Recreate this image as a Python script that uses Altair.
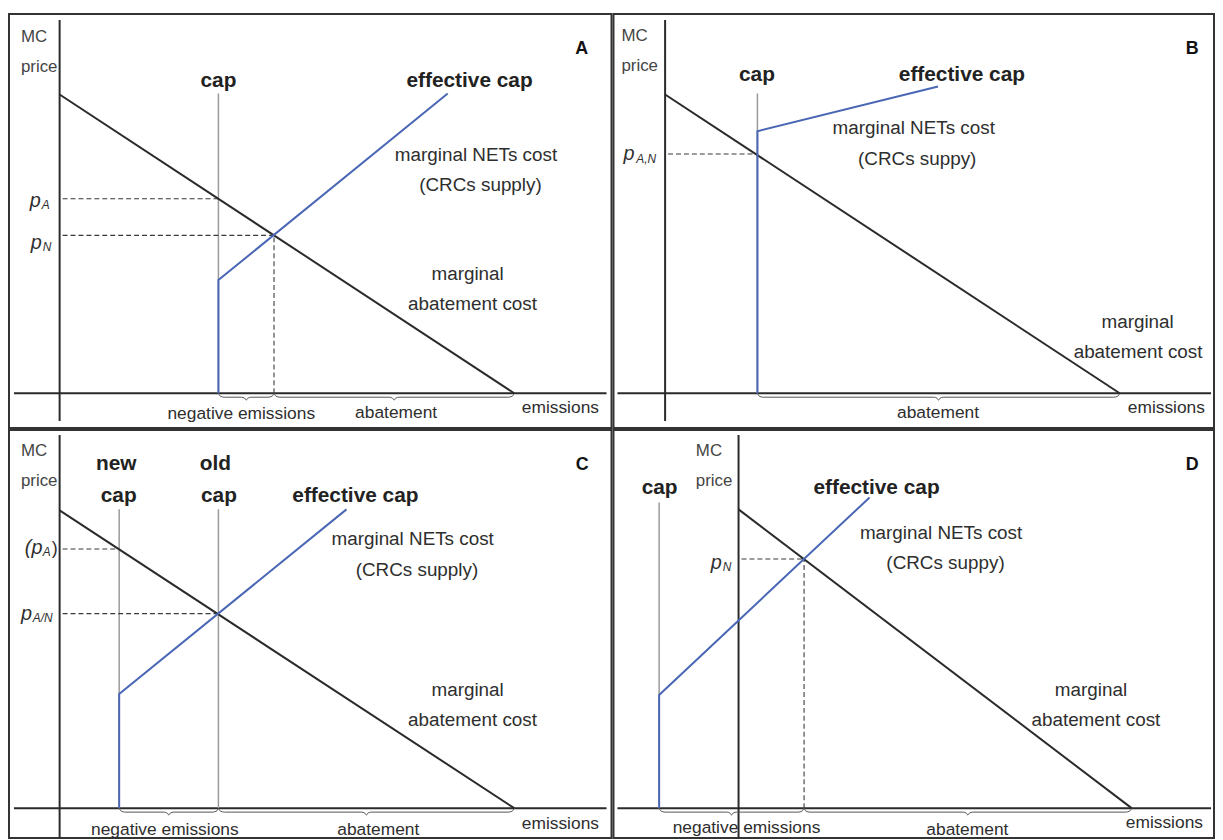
import altair as alt
import pandas as pd

FONT = "Liberation Sans"
INK = "#2a2a2a"
TXT = "#2e2e2e"
BLUE = "#4a67b5"
GRAY = "#9a9a9a"
DASH_START = 3

# ---------------- Panel A ----------------
A_XDOM = [-51, 556]
A_YDOM = [-35, 382]
A_EMIS_AXIS = [-46, 551]
A_PRICE_AXIS = [-28, 376]
A_MAC_X = [0, 458]
A_MAC_Y = [301, 0]
A_NET_X = [160, 160, 391]
A_NET_Y = [0, 114, 302]
A_CAP_X = [160]
A_CAP_TOP = [302]
A_PRICE_END_X = [160, 216]
A_PRICE_Y = [196, 159]
A_DROP_X = [216]
A_DROP_Y = [159]
A_BRACES = [(160, 216), (216, 458)]
A_BOLD = [("cap", 160, 309), ("effective cap", 413, 309)]
A_LETTER = [("A", 526, 342)]
A_LABELS = [("marginal NETs cost", 419.5, 234), ("(CRCs supply)", 424, 204),
            ("marginal", 411, 114), ("abatement cost", 416, 84)]
A_AXIS_LABELS = [("negative emissions", 183, -26), ("abatement", 339, -25), ("emissions", 504.5, -20)]
A_MC = [("MC", -39, 354), ("price", -39, 324)]
A_P = [("p", -30, 188), ("p", -29, 145)]
A_SUB = [("A", -18, 186), ("N", -17, 143)]

# ---------------- Panel B ----------------
B_XDOM = [-52, 553]
B_YDOM = [-35, 382]
B_EMIS_AXIS = [-48, 550]
B_PRICE_AXIS = [-28, 376]
B_MAC_X = [0, 458]
B_MAC_Y = [301, 0]
B_NET_X = [93, 93, 275]
B_NET_Y = [0, 264, 309]
B_CAP_X = [93]
B_CAP_TOP = [302]
B_PRICE_END_X = [93]
B_PRICE_Y = [241]
B_DROP_X = []
B_DROP_Y = []
B_BRACES = [(93, 458)]
B_BOLD = [("cap", 92.5, 315), ("effective cap", 299, 315)]
B_LETTER = [("B", 531, 342)]
B_LABELS = [("marginal NETs cost", 250.5, 261), ("(CRCs suppy)", 254, 230),
            ("marginal", 476, 66), ("abatement cost", 476.5, 36)]
B_AXIS_LABELS = [("abatement", 275, -25), ("emissions", 505, -20)]
B_MC = [("MC", -44, 355), ("price", -44, 325)]
B_P = [("p", -42, 235)]
B_SUB = [("A,N", -29, 232)]

# ---------------- Panel C ----------------
C_XDOM = [-51, 556]
C_YDOM = [-30, 381]
C_EMIS_AXIS = [-46, 551]
C_PRICE_AXIS = [-30, 376]
C_MAC_X = [0, 458]
C_MAC_Y = [300, 0]
C_NET_X = [60, 60, 289]
C_NET_Y = [0, 115, 301]
C_CAP_X = [60, 160]
C_CAP_TOP = [301, 301]
C_PRICE_END_X = [60, 160]
C_PRICE_Y = [261, 196]
C_DROP_X = []
C_DROP_Y = []
C_BRACES = [(60, 160), (160, 458)]
C_BOLD = [("new", 57, 341), ("cap", 59.5, 308), ("old", 157, 341), ("cap", 160.5, 308),
          ("effective cap", 298, 308)]
C_LETTER = [("C", 526.5, 341)]
C_LABELS = [("marginal NETs cost", 355.7, 265), ("(CRCs supply)", 360, 234),
            ("marginal", 411, 113), ("abatement cost", 416, 83)]
C_AXIS_LABELS = [("negative emissions", 106, -27), ("abatement", 321, -27), ("emissions", 504.5, -21)]
C_MC = [("MC", -39, 355), ("price", -39, 325)]
C_P = [("(p", -35, 256), ("p", -39, 190)]
C_SUB = [("A", -17, 254), ("A/N", -27, 188)]
C_CLOSE = [(")", -8, 256)]

# ---------------- Panel D ----------------
D_XDOM = [-126, 479]
D_YDOM = [-30, 381]
D_EMIS_AXIS = [-122, 476]
D_PRICE_AXIS = [-30, 376]
D_MAC_X = [0, 396]
D_MAC_Y = [301, 0]
D_NET_X = [-80, -80, 132]
D_NET_Y = [0, 114, 313]
D_CAP_X = [-80]
D_CAP_TOP = [308]
D_PRICE_END_X = [66]
D_PRICE_Y = [251]
D_DROP_X = [66]
D_DROP_Y = [251]
D_BRACES = [(-80, 66), (66, 396)]
D_BOLD = [("cap", -79.5, 316), ("effective cap", 139, 316)]
D_LETTER = [("D", 457, 341)]
D_LABELS = [("marginal NETs cost", 204, 271), ("(CRCs suppy)", 208.5, 241),
            ("marginal", 355, 113), ("abatement cost", 360, 83)]
D_AXIS_LABELS = [("negative emissions", 8, -25), ("abatement", 230.5, -27), ("emissions", 429, -20)]
D_MC = [("MC", -43, 355), ("price", -43, 325)]
D_P = [("p", -28, 241)]
D_SUB = [("N", -16, 239)]


def brace_shape(x0, x1, depth=7):
    m = (x0 + x1) / 2.0
    xs = [x0, x0 + 2, x0 + 6, m - 5, m - 1.5, m, m + 1.5, m + 5, x1 - 6, x1 - 2, x1]
    ys = [0, -3, -4, -4, -5, -depth, -5, -4, -4, -3, 0]
    return xs, ys


def make_panel(p, width, height):
    xs = alt.Scale(domain=p["xdom"], nice=False, zero=False)
    ys = alt.Scale(domain=p["ydom"], nice=False, zero=False)

    def exy():
        return dict(x=alt.X("x:Q", scale=xs, axis=None), y=alt.Y("y:Q", scale=ys, axis=None))

    def rules(segs, **mk):
        df = pd.DataFrame(segs, columns=["x", "y", "x2", "y2"])
        return alt.Chart(df).mark_rule(**mk).encode(**exy(), x2="x2:Q", y2="y2:Q")

    def polyline(xv, yv, **mk):
        df = pd.DataFrame({"x": xv, "y": yv, "i": list(range(len(xv)))})
        return alt.Chart(df).mark_line(**mk).encode(**exy(), order="i:Q")

    def texts(rows, **mk):
        df = pd.DataFrame(rows, columns=["t", "x", "y"])
        return alt.Chart(df).mark_text(font=FONT, baseline="alphabetic", **mk).encode(**exy(), text="t:N")

    layers = []
    # axes
    layers.append(rules([(p["emis"][0], 0, p["emis"][1], 0), (0, p["price"][0], 0, p["price"][1])],
                        color=INK, strokeWidth=2))
    # cap lines
    layers.append(rules([(x, 0, x, t) for x, t in zip(p["cap_x"], p["cap_top"])],
                        color=GRAY, strokeWidth=1.5))
    # dashed price guides
    segs = [(DASH_START, y, x, y) for x, y in zip(p["price_end_x"], p["price_y"])]
    segs += [(x, 0, x, y) for x, y in zip(p["drop_x"], p["drop_y"])]
    layers.append(rules(segs, color="#3a3a3a", strokeWidth=1.1, strokeDash=[5, 3]))
    # braces
    rows = []
    for g, (b0, b1) in enumerate(p["braces"]):
        bx, by = brace_shape(b0, b1)
        for i, (xx, yy) in enumerate(zip(bx, by)):
            rows.append({"x": xx, "y": yy, "i": i, "g": g})
    layers.append(alt.Chart(pd.DataFrame(rows)).mark_line(color="#555555", strokeWidth=1,
                                                          interpolate="monotone")
                  .encode(**exy(), order="i:Q", detail="g:N"))
    # marginal abatement cost
    layers.append(polyline(p["mac_x"], p["mac_y"], color=INK, strokeWidth=2))
    # NETs supply / effective cap
    layers.append(polyline(p["net_x"], p["net_y"], color=BLUE, strokeWidth=2))
    # texts
    layers.append(texts(p["bold"], fontSize=21, fontWeight="bold", color="#222222", align="center"))
    layers.append(texts(p["letter"], fontSize=18, fontWeight="bold", color="#111111", align="center"))
    layers.append(texts(p["labels"], fontSize=19, color=TXT, align="center"))
    layers.append(texts(p["axis_labels"], fontSize=17.5, color=TXT, align="center"))
    layers.append(texts(p["mc"], fontSize=17, color="#444444", align="left"))
    layers.append(texts(p["p"], fontSize=20, fontStyle="italic", color=TXT, align="left"))
    layers.append(texts(p["sub"], fontSize=12, fontStyle="italic", color=TXT, align="left"))
    if p.get("close"):
        layers.append(texts(p["close"], fontSize=18, color=TXT, align="left"))
    return alt.layer(*layers).properties(width=width, height=height)


def spec(prefix):
    g = globals()
    d = dict(xdom=g[prefix + "_XDOM"], ydom=g[prefix + "_YDOM"], emis=g[prefix + "_EMIS_AXIS"],
             price=g[prefix + "_PRICE_AXIS"], mac_x=g[prefix + "_MAC_X"], mac_y=g[prefix + "_MAC_Y"],
             net_x=g[prefix + "_NET_X"], net_y=g[prefix + "_NET_Y"], cap_x=g[prefix + "_CAP_X"],
             cap_top=g[prefix + "_CAP_TOP"], price_end_x=g[prefix + "_PRICE_END_X"],
             price_y=g[prefix + "_PRICE_Y"], drop_x=g[prefix + "_DROP_X"], drop_y=g[prefix + "_DROP_Y"],
             braces=g[prefix + "_BRACES"], bold=g[prefix + "_BOLD"], letter=g[prefix + "_LETTER"],
             labels=g[prefix + "_LABELS"], axis_labels=g[prefix + "_AXIS_LABELS"], mc=g[prefix + "_MC"],
             p=g[prefix + "_P"], sub=g[prefix + "_SUB"], close=g.get(prefix + "_CLOSE", []))
    return d


pa = make_panel(spec("A"), 607, 417)
pb = make_panel(spec("B"), 605, 417)
pc = make_panel(spec("C"), 607, 411)
pd_ = make_panel(spec("D"), 605, 411)

chart = alt.vconcat(
    alt.hconcat(pa, pb, spacing=0),
    alt.hconcat(pc, pd_, spacing=0),
    spacing=0,
).properties(
    padding={"left": 0, "top": 2, "right": 0, "bottom": 0}
).configure_view(stroke="#333333", strokeWidth=2)

chart.save("out.html", embed_options={"renderer": "svg", "actions": False})
